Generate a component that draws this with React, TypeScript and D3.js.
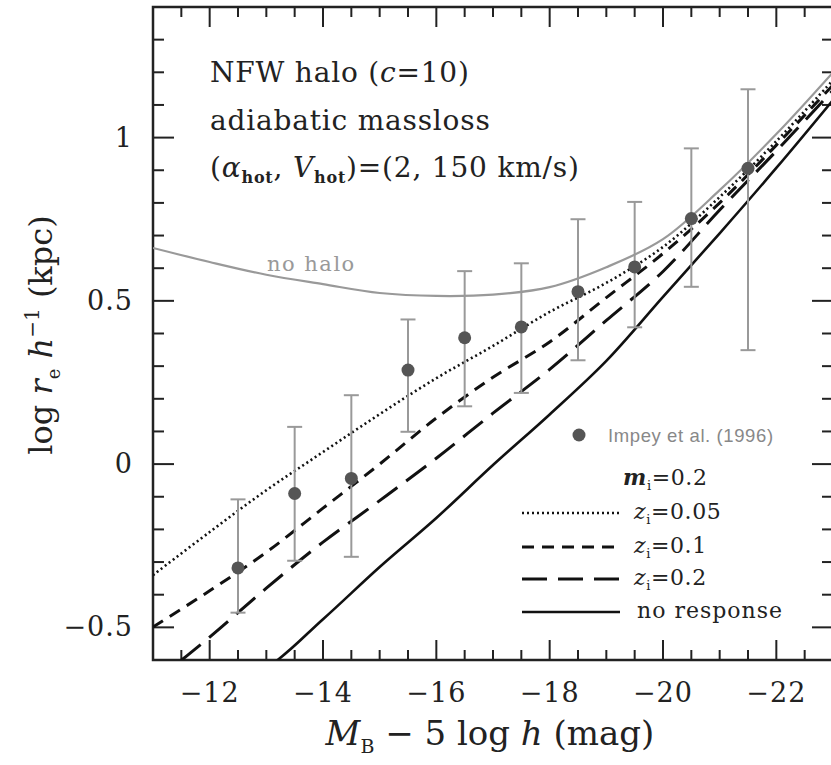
import React from 'react';
import * as d3 from 'd3';

// model curves, sampled at these magnitudes
const mags = [-11, -12, -13, -14, -15, -16, -17, -18, -19, -20, -21, -22, -23];
const noHalo = [0.662, 0.619, 0.58, 0.551, 0.524, 0.515, 0.519, 0.542, 0.603, 0.689, 0.839, 1.011, 1.2];
const zi005 = [-0.34, -0.208, -0.08, 0.037, 0.153, 0.263, 0.362, 0.466, 0.555, 0.665, 0.818, 0.989, 1.176];
const zi01 = [-0.499, -0.388, -0.27, -0.135, 0.0, 0.141, 0.266, 0.374, 0.51, 0.645, 0.8, 0.977, 1.161];
const zi02 = [-0.67, -0.53, -0.38, -0.239, -0.112, 0.018, 0.156, 0.29, 0.44, 0.59, 0.778, 0.959, 1.145];
const noResp = [-0.78, -0.7, -0.625, -0.475, -0.315, -0.165, -0.003, 0.152, 0.316, 0.512, 0.707, 0.907, 1.115];

// Impey et al. (1996)
const obsMag = [-12.5, -13.5, -14.5, -15.5, -16.5, -17.5, -18.5, -19.5, -20.5, -21.5];
const obsVal = [-0.318, -0.09, -0.044, 0.288, 0.387, 0.42, 0.528, 0.604, 0.752, 0.906];
const obsHi = [-0.108, 0.114, 0.211, 0.443, 0.591, 0.615, 0.75, 0.803, 0.967, 1.148];
const obsLo = [-0.455, -0.296, -0.284, 0.099, 0.177, 0.218, 0.318, 0.419, 0.543, 0.349];

const xLabels = [-12, -14, -16, -18, -20, -22];
const yLabels = [-0.5, 0, 0.5, 1];

const W = 831, H = 765;
const serif = '"DejaVu Serif", serif';
const sans = '"Liberation Sans", Arial, sans-serif';

const fmt = (v: number) => (v < 0 ? '\u2212' + Math.abs(v) : String(v));

export default function App() {
  const x = d3.scaleLinear().domain([-11, -23]).range([153, 833]);
  const y = d3.scaleLinear().domain([-0.6, 1.4]).range([660, 7]);
  const [x0, x1] = x.range();
  const [y0, y1] = y.range();

  const line = d3.line<number>()
    .x((_, i) => x(mags[i]))
    .y((d) => y(d))
    .curve(d3.curveCatmullRom.alpha(0.5));

  const xt = d3.range(0, 25).map((i) => -11 - i * 0.5);
  const yt = d3.range(0, 21).map((i) => Math.round((-0.6 + i * 0.1) * 10) / 10);

  const models = [
    { vals: zi005, dash: '2 3', w: 2.6, label: '0.05' },
    { vals: zi01, dash: '12 8', w: 3, label: '0.1' },
    { vals: zi02, dash: '25 11', w: 3, label: '0.2' },
    { vals: noResp, dash: null, w: 2.6, label: null },
  ];
  const legY = [513, 547, 579, 612];

  return (
    <svg width={W} height={H} style={{ position: 'absolute', left: 0, top: 0, background: '#fff' }}>
      <defs>
        <clipPath id="plot">
          <rect x={x0} y={y1} width={x1 - x0} height={y0 - y1} />
        </clipPath>
      </defs>

      {/* frame + ticks */}
      <g stroke="#222" strokeWidth={2}>
        {xt.map((v) => {
          const big = Math.abs(v % 2) < 1e-9;
          const L = big ? 20 : 10;
          return (
            <g key={'xt' + v}>
              <line x1={x(v)} x2={x(v)} y1={y0} y2={y0 - L} />
              <line x1={x(v)} x2={x(v)} y1={y1} y2={y1 + L} />
            </g>
          );
        })}
        {yt.map((v) => {
          const big = Math.abs(v * 2 - Math.round(v * 2)) < 1e-6;
          const L = big ? 21 : 11;
          return (
            <g key={'yt' + v}>
              <line x1={x0} x2={x0 + L} y1={y(v)} y2={y(v)} />
              <line x1={x1} x2={x1 - L} y1={y(v)} y2={y(v)} />
            </g>
          );
        })}
        <rect x={x0} y={y1} width={x1 - x0} height={y0 - y1} fill="none" strokeWidth={2.5} />
      </g>

      {/* tick labels */}
      <g fontFamily={serif} fontSize={27} fill="#222">
        {xLabels.map((v) => (
          <text key={'xl' + v} x={x(v)} y={702} textAnchor="middle" letterSpacing={1}>{fmt(v)}</text>
        ))}
        {yLabels.map((v) => (
          <text key={'yl' + v} x={133} y={y(v) + 9} textAnchor="end" letterSpacing={1}>{fmt(v)}</text>
        ))}
      </g>

      {/* axis titles */}
      <text x={490} y={745} textAnchor="middle" fontFamily={serif} fontSize={34} fill="#222">
        <tspan fontStyle="italic">M</tspan>
        <tspan fontSize={19} dy={8}>B</tspan>
        <tspan dy={-8}>{' \u2212 5 log '}</tspan>
        <tspan fontStyle="italic">h</tspan>
        <tspan>{' (mag)'}</tspan>
      </text>
      <text transform="translate(52,335) rotate(-90)" textAnchor="middle" fontFamily={serif} fontSize={32} fill="#222">
        <tspan>{'log '}</tspan>
        <tspan fontStyle="italic">r</tspan>
        <tspan fontSize={18} dy={8}>e</tspan>
        <tspan dy={-8} fontStyle="italic">{' h'}</tspan>
        <tspan fontSize={20} dy={-13}>{'\u22121'}</tspan>
        <tspan dy={13}>{' (kpc)'}</tspan>
      </text>

      {/* curves */}
      <g clipPath="url(#plot)" fill="none">
        <path d={line(noHalo) || ''} stroke="#999" strokeWidth={2.2} />
        {models.map((m, i) => (
          <path key={'m' + i} d={line(m.vals) || ''} stroke="#111" strokeWidth={m.w}
            strokeDasharray={m.dash || undefined} />
        ))}
      </g>

      {/* observations */}
      <g>
        {obsMag.map((m, i) => (
          <g key={'o' + i} stroke="#999" strokeWidth={2}>
            <line x1={x(m)} x2={x(m)} y1={y(obsHi[i])} y2={y(obsLo[i])} />
            <line x1={x(m) - 7.5} x2={x(m) + 7.5} y1={y(obsHi[i])} y2={y(obsHi[i])} />
            <line x1={x(m) - 7.5} x2={x(m) + 7.5} y1={y(obsLo[i])} y2={y(obsLo[i])} />
          </g>
        ))}
        {obsMag.map((m, i) => (
          <circle key={'c' + i} cx={x(m)} cy={y(obsVal[i])} r={6.5} fill="#555" />
        ))}
      </g>

      {/* annotations */}
      <g fontFamily={serif} fontSize={28} fill="#222" letterSpacing={0.8}>
        <text x={210} y={82}>
          <tspan>{'NFW halo ('}</tspan>
          <tspan fontStyle="italic">c</tspan>
          <tspan>{'=10)'}</tspan>
        </text>
        <text x={210} y={130}>adiabatic massloss</text>
        <text x={210} y={177}>
          <tspan>(</tspan>
          <tspan fontStyle="italic">{'\u03b1'}</tspan>
          <tspan fontSize={16} fontWeight="bold" dy={6}>hot</tspan>
          <tspan dy={-6}>{', '}</tspan>
          <tspan fontStyle="italic">V</tspan>
          <tspan fontSize={16} fontWeight="bold" dy={6}>hot</tspan>
          <tspan dy={-6}>{')=(2, 150 km/s)'}</tspan>
        </text>
      </g>
      <text x={267} y={271} fontFamily={serif} fontSize={21} fill="#999" letterSpacing={1.5}>no halo</text>

      {/* legend */}
      <circle cx={579} cy={435} r={6.5} fill="#555" />
      <text x={608} y={442} fontFamily={sans} fontSize={18.5} fill="#888" letterSpacing={0.6}>Impey et al. (1996)</text>
      <g fontFamily={serif} fontSize={22} fill="#222" letterSpacing={0.6}>
        <text x={623} y={485}>
          <tspan fontStyle="italic" fontWeight="bold">m</tspan>
          <tspan fontSize={13} dy={5}>i</tspan>
          <tspan dy={-5}>=0.2</tspan>
        </text>
        {models.map((m, i) => (
          <g key={'lg' + i}>
            <line x1={522} x2={620} y1={legY[i]} y2={legY[i]} stroke="#111" strokeWidth={m.w}
              strokeDasharray={m.dash || undefined} />
            {m.label ? (
              <text x={634} y={legY[i] + 6}>
                <tspan fontStyle="italic">z</tspan>
                <tspan fontSize={13} dy={5}>i</tspan>
                <tspan dy={-5}>{'=' + m.label}</tspan>
              </text>
            ) : (
              <text x={637} y={legY[i] + 6} letterSpacing={1}>no response</text>
            )}
          </g>
        ))}
      </g>
    </svg>
  );
}
